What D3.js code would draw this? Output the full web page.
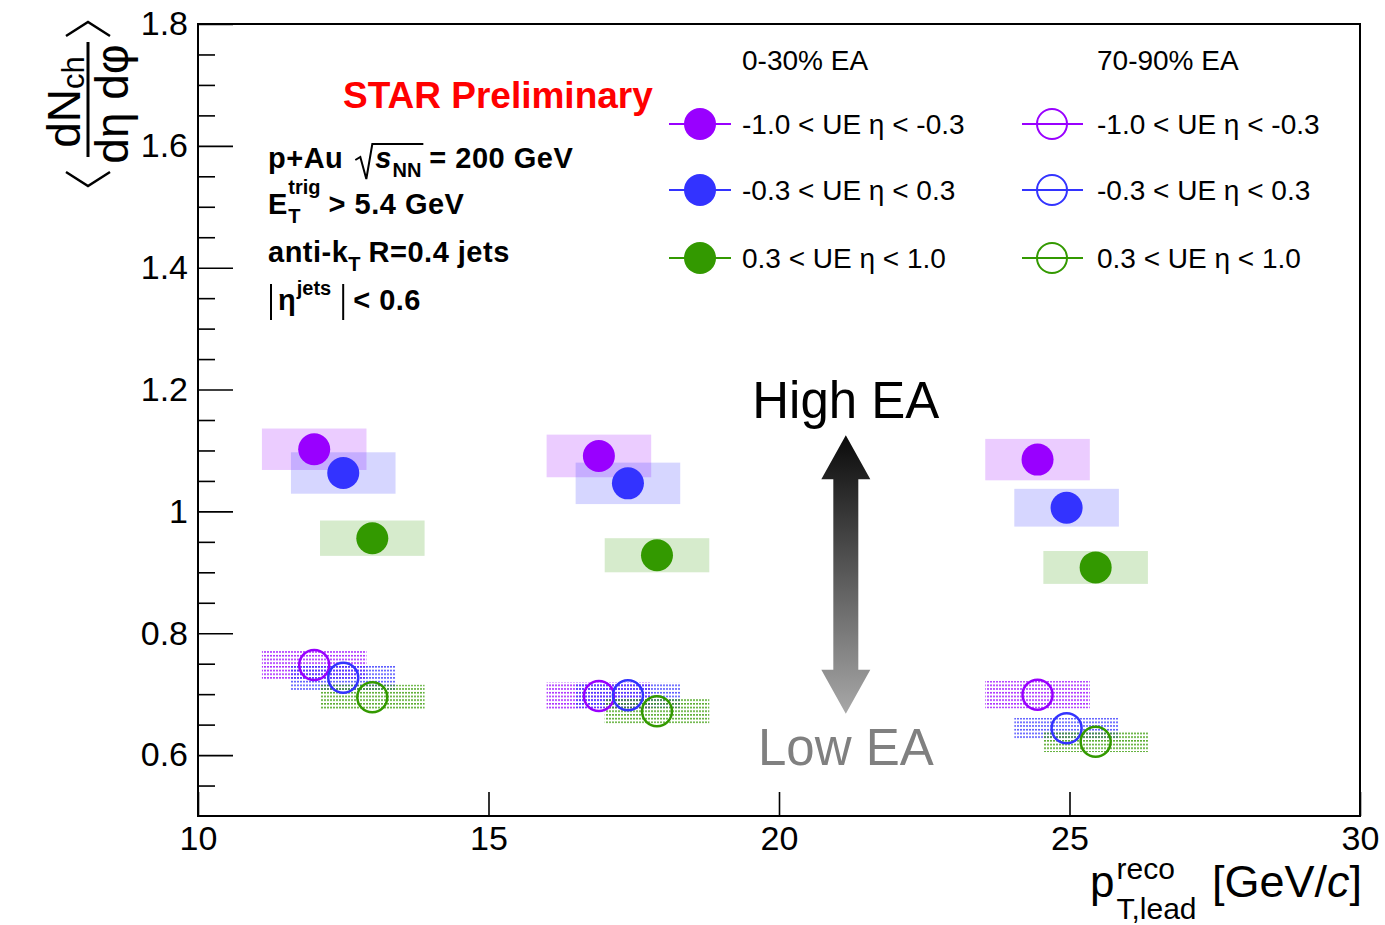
<!DOCTYPE html>
<html>
<head>
<meta charset="utf-8">
<script src="https://cdn.jsdelivr.net/npm/d3@7"></script>
<style>
  body { margin: 0; background: #fff; }
  svg { display: block; }
  text { font-family: "Liberation Sans", Arial, Helvetica, sans-serif; }
</style>
</head>
<body>
<svg id="chart" width="1385" height="925"></svg>
<script>
// ---------------- data ----------------
const ptBins = [12.5, 17.4, 24.95];          // leading-jet pT bin centres [GeV/c]
const etaShift = [-0.5, 0, 0.5];             // horizontal offset per UE eta slice
const etaLabels = ["-1.0 < UE \u03b7 < -0.3", "-0.3 < UE \u03b7 < 0.3", "0.3 < UE \u03b7 < 1.0"];
const seriesColors = ["#9900ff", "#3333ff", "#339900"];
const sysHalfWidth = 0.9;                    // half width of systematic boxes in pT

// 0-30% EA (high activity)
const highPurple = [1.102, 1.091, 1.085];
const highBlue   = [1.063, 1.046, 1.006];
const highGreen  = [0.956, 0.928, 0.908];
const highPurpleSys = [0.034, 0.035, 0.034];
const highBlueSys   = [0.034, 0.034, 0.031];
const highGreenSys  = [0.029, 0.028, 0.027];

// 70-90% EA (low activity)
const lowPurple = [0.748, 0.697, 0.699];
const lowBlue   = [0.727, 0.698, 0.644];
const lowGreen  = [0.695, 0.672, 0.622];
const lowPurpleSys = [0.023, 0.0225, 0.0225];
const lowBlueSys   = [0.0205, 0.0205, 0.017];
const lowGreenSys  = [0.0205, 0.020, 0.017];

const xTicks = [10, 15, 20, 25, 30];
const yTicks = [0.6, 0.8, 1.0, 1.2, 1.4, 1.6, 1.8];
const yMinorTicks = d3.range(0.55, 1.8, 0.05).map(v => +v.toFixed(2)).filter(v => !yTicks.some(t => Math.abs(t - v) < 1e-6));

// ---------------- layout ----------------
const svg = d3.select("#chart");
const frame = { left: 198, right: 1360, top: 24, bottom: 816 };
const x = d3.scaleLinear().domain([10, 30]).range([frame.left, frame.right]);
const y = d3.scaleLinear().domain([0.5, 1.8]).range([frame.bottom, frame.top]);

const highSeries = [
  { vals: highPurple, sys: highPurpleSys },
  { vals: highBlue,   sys: highBlueSys },
  { vals: highGreen,  sys: highGreenSys }
];
const lowSeries = [
  { vals: lowPurple, sys: lowPurpleSys },
  { vals: lowBlue,   sys: lowBlueSys },
  { vals: lowGreen,  sys: lowGreenSys }
];

// dotted fill patterns for the peripheral systematic boxes
const defs = svg.append("defs");
seriesColors.forEach((c, i) => {
  const p = defs.append("pattern").attr("id", "dots" + i)
    .attr("patternUnits", "userSpaceOnUse").attr("width", 3).attr("height", 3.7);
  p.append("rect").attr("width", 2).attr("height", 1.6).attr("fill", c).attr("opacity", 0.8);
});

// gradient for the EA arrow
const grad = defs.append("linearGradient").attr("id", "eaGrad")
  .attr("gradientUnits", "userSpaceOnUse").attr("x1", 0).attr("x2", 0)
  .attr("y1", y(1.125)).attr("y2", y(0.668));
grad.append("stop").attr("offset", 0).attr("stop-color", "#0a0a0a");
grad.append("stop").attr("offset", 1).attr("stop-color", "#a8a8a8");

// ---------------- axes ----------------
const fmt = v => (Math.abs(v - 1) < 1e-9 ? "1" : d3.format("")(v));

const xAxis = svg.append("g").attr("transform", `translate(0,${frame.bottom})`)
  .call(d3.axisBottom(x).tickValues(xTicks).tickSize(-24).tickPadding(10).tickFormat(d3.format("d")));
const yAxis = svg.append("g").attr("transform", `translate(${frame.left},0)`)
  .call(d3.axisLeft(y).tickValues(yTicks).tickSize(-35).tickPadding(10).tickFormat(fmt));
const yMinor = svg.append("g").attr("transform", `translate(${frame.left},0)`)
  .call(d3.axisLeft(y).tickValues(yMinorTicks).tickSize(-17).tickFormat(""));

[xAxis, yAxis, yMinor].forEach(a => {
  a.select(".domain").remove();
  a.selectAll(".tick line").attr("stroke", "#000").attr("stroke-width", 1.6);
  a.selectAll(".tick text").attr("font-size", 34).attr("fill", "#000")
    .style("font-family", '"Liberation Sans", Arial, sans-serif');
});

svg.append("rect")
  .attr("x", frame.left).attr("y", frame.top)
  .attr("width", frame.right - frame.left).attr("height", frame.bottom - frame.top)
  .attr("fill", "none").attr("stroke", "#000").attr("stroke-width", 2);

// ---------------- systematic boxes ----------------
const boxes = svg.append("g");
highSeries.forEach((s, i) => {
  boxes.selectAll(null).data(ptBins).enter().append("rect")
    .attr("x", (d) => x(d + etaShift[i] - sysHalfWidth))
    .attr("width", (d) => x(d + etaShift[i] + sysHalfWidth) - x(d + etaShift[i] - sysHalfWidth))
    .attr("y", (d, j) => y(s.vals[j] + s.sys[j]))
    .attr("height", (d, j) => y(s.vals[j] - s.sys[j]) - y(s.vals[j] + s.sys[j]))
    .attr("fill", seriesColors[i]).attr("fill-opacity", 0.2);
});
lowSeries.forEach((s, i) => {
  boxes.selectAll(null).data(ptBins).enter().append("rect")
    .attr("x", (d) => x(d + etaShift[i] - sysHalfWidth))
    .attr("width", (d) => x(d + etaShift[i] + sysHalfWidth) - x(d + etaShift[i] - sysHalfWidth))
    .attr("y", (d, j) => y(s.vals[j] + s.sys[j]))
    .attr("height", (d, j) => y(s.vals[j] - s.sys[j]) - y(s.vals[j] + s.sys[j]))
    .attr("fill", `url(#dots${i})`);
});

// ---------------- markers ----------------
const marks = svg.append("g");
highSeries.forEach((s, i) => {
  marks.selectAll(null).data(ptBins).enter().append("circle")
    .attr("cx", d => x(d + etaShift[i]))
    .attr("cy", (d, j) => y(s.vals[j]))
    .attr("r", 16).attr("fill", seriesColors[i]);
});
lowSeries.forEach((s, i) => {
  marks.selectAll(null).data(ptBins).enter().append("circle")
    .attr("cx", d => x(d + etaShift[i]))
    .attr("cy", (d, j) => y(s.vals[j]))
    .attr("r", 15).attr("fill", "none").attr("stroke", seriesColors[i]).attr("stroke-width", 2.5);
});

// ---------------- EA arrow ----------------
const ax = x(21.15), aTop = y(1.125), aBot = y(0.668);
const head = 44, headW = 24.5, shaftW = 12.5;
svg.append("path")
  .attr("d", [
    [ax, aTop], [ax + headW, aTop + head], [ax + shaftW, aTop + head],
    [ax + shaftW, aBot - head], [ax + headW, aBot - head], [ax, aBot],
    [ax - headW, aBot - head], [ax - shaftW, aBot - head], [ax - shaftW, aTop + head],
    [ax - headW, aTop + head]
  ].map((p, k) => (k ? "L" : "M") + p[0] + "," + p[1]).join("") + "Z")
  .attr("fill", "url(#eaGrad)");

svg.append("text").attr("x", ax).attr("y", 418).attr("text-anchor", "middle")
  .attr("font-size", 51).attr("fill", "#000").text("High EA");
svg.append("text").attr("x", ax).attr("y", 765).attr("text-anchor", "middle")
  .attr("font-size", 51).attr("fill", "#808080").text("Low EA");

// ---------------- legend ----------------
const leg = svg.append("g");
leg.append("text").attr("x", 742).attr("y", 70).attr("font-size", 28).text("0-30% EA");
leg.append("text").attr("x", 1097).attr("y", 70).attr("font-size", 28).text("70-90% EA");
const rowY = [124, 190, 258];
etaLabels.forEach((lab, i) => {
  const ry = rowY[i], c = seriesColors[i];
  leg.append("line").attr("x1", 669).attr("x2", 731).attr("y1", ry).attr("y2", ry)
    .attr("stroke", c).attr("stroke-width", 2);
  leg.append("circle").attr("cx", 700).attr("cy", ry).attr("r", 16).attr("fill", c);
  leg.append("text").attr("x", 742).attr("y", ry + 10).attr("font-size", 28).text(lab);

  leg.append("line").attr("x1", 1022).attr("x2", 1083).attr("y1", ry).attr("y2", ry)
    .attr("stroke", c).attr("stroke-width", 2);
  leg.append("circle").attr("cx", 1052).attr("cy", ry).attr("r", 15)
    .attr("fill", "none").attr("stroke", c).attr("stroke-width", 2);
  leg.append("text").attr("x", 1097).attr("y", ry + 10).attr("font-size", 28).text(lab);
});

// ---------------- annotation block ----------------
const ann = svg.append("g");
function put(xp, yp, t, size, opts = {}) {
  const el = ann.append("text").attr("x", xp).attr("y", yp).attr("font-size", size)
    .attr("font-weight", opts.weight || "bold").attr("font-style", opts.style || "normal")
    .attr("letter-spacing", opts.ls || 0)
    .attr("fill", opts.fill || "#000").text(t);
  return xp + el.node().getComputedTextLength();
}

put(343, 108, "STAR Preliminary", 37, { fill: "#ff0000" });

const F = 29, FS = 20, LS = 0.5;
// p+Au sqrt(s_NN) = 200 GeV
let cx = put(268, 168, "p+Au", F, { ls: LS });
const r0 = cx + 12;
let sEnd = put(r0 + 20, 168, "s", F, { style: "italic" });
let nnEnd = put(sEnd + 1, 177, "NN", FS);
ann.append("path")
  .attr("d", `M${r0},160 L${r0 + 5},157 L${r0 + 11},179 L${r0 + 17},144 L${nnEnd + 2},144`)
  .attr("fill", "none").attr("stroke", "#000").attr("stroke-width", 2);
put(nnEnd + 8, 168, "= 200 GeV", F, { ls: LS });

// E_T^trig > 5.4 GeV
cx = put(268, 214, "E", F);
const supEnd = put(cx + 1, 194, "trig", FS);
const subEnd = put(cx + 1, 223, "T", FS);
put(Math.max(supEnd, subEnd) + 8, 214, "> 5.4 GeV", F, { ls: LS });

// anti-kT R=0.4 jets
cx = put(268, 262, "anti-k", F, { ls: LS });
cx = put(cx, 271, "T", FS);
put(cx + 8, 262, "R=0.4 jets", F, { ls: LS });

// |eta^jets| < 0.6
ann.append("line").attr("x1", 271).attr("x2", 271).attr("y1", 284).attr("y2", 320)
  .attr("stroke", "#000").attr("stroke-width", 2);
cx = put(278, 310, "\u03b7", F);
cx = put(cx + 1, 295, "jets", FS);
ann.append("line").attr("x1", cx + 12).attr("x2", cx + 12).attr("y1", 284).attr("y2", 320)
  .attr("stroke", "#000").attr("stroke-width", 2);
put(cx + 22, 310, "< 0.6", F, { ls: LS });

// ---------------- axis titles ----------------
// x title: p_{T,lead}^{reco} [GeV/c]
const xt = svg.append("g");
const pT = xt.append("text").attr("x", 1090).attr("y", 897).attr("font-size", 44).text("p");
const pEnd = 1090 + pT.node().getComputedTextLength();
xt.append("text").attr("x", pEnd + 2).attr("y", 879).attr("font-size", 30).text("reco");
xt.append("text").attr("x", pEnd + 2).attr("y", 919).attr("font-size", 30).text("T,lead");
const unit = xt.append("text").attr("x", 1362).attr("y", 897).attr("font-size", 45).attr("text-anchor", "end");
unit.append("tspan").text("[GeV/");
unit.append("tspan").attr("font-style", "italic").text("c");
unit.append("tspan").text("]");

// y title: < dN_ch / (deta dphi) >
const yt = svg.append("g").attr("transform", "translate(88,100) rotate(-90)");
const num = yt.append("text").attr("x", -2).attr("y", -8).attr("text-anchor", "middle").attr("font-size", 46);
num.append("tspan").text("dN");
num.append("tspan").attr("font-size", 31).attr("dy", 4).text("ch");
yt.append("text").attr("x", -4).attr("y", 40).attr("text-anchor", "middle").attr("font-size", 46)
  .text("d\u03b7 d\u03c6");
yt.append("line").attr("x1", -57).attr("x2", 58).attr("y1", 0).attr("y2", 0)
  .attr("stroke", "#000").attr("stroke-width", 3);
// angle brackets around the fraction
svg.append("path").attr("d", "M66,36 L88,22 L110,36").attr("fill", "none")
  .attr("stroke", "#000").attr("stroke-width", 2.5);
svg.append("path").attr("d", "M66,172 L88,186 L110,172").attr("fill", "none")
  .attr("stroke", "#000").attr("stroke-width", 2.5);
</script>
</body>
</html>
